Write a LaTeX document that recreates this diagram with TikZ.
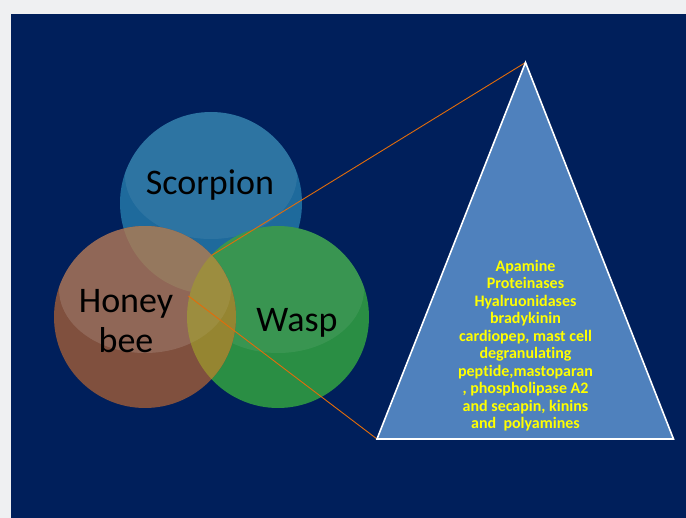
\documentclass[tikz,border=0pt]{standalone}
\usepackage{fontspec}
\setmainfont{Carlito}[Ligatures=NoCommon]
\usetikzlibrary{calc}
\definecolor{pagegrey}{HTML}{EFF0F2}
\definecolor{slidenavy}{HTML}{001F5B}
\definecolor{scorpblue}{HTML}{1E6A9C}
\definecolor{beebrown}{HTML}{80503E}
\definecolor{waspgreen}{HTML}{2A8E44}
\definecolor{beescorp}{HTML}{8E6E52}
\definecolor{beewasp}{HTML}{958531}
\definecolor{pyramidblue}{HTML}{4F81BD}
\definecolor{leadorange}{HTML}{E36C0A}
\definecolor{venomyellow}{HTML}{FFFF00}

\tikzset{
  circlabel/.style={font=\fontsize{36}{39.6}\selectfont, text=black, align=center, inner sep=0pt},
  venomtext/.style={font=\fontsize{16}{17.5}\selectfont\bfseries, text=venomyellow, align=center, inner sep=0pt},
  leadline/.style={leadorange, line width=0.9pt},
}

\begin{document}
\begin{tikzpicture}[x=1pt,y=-1pt]
    \useasboundingbox (0,0) rectangle (686,518);
    \fill[pagegrey] (0,0) rectangle (686,518);
    \fill[slidenavy] (11,14) rectangle (686,518);
    \coordinate (scorp) at (211,203);
    \coordinate (bee) at (145,317);
    \coordinate (wasp) at (278,317);
    % gloss on the upper part of each disc
    \foreach \c/\col in {scorp/scorpblue,wasp/waspgreen,bee/beebrown} {
        \fill[\col] (\c) circle (91pt);
        \begin{scope}
            \clip (\c) circle (91pt);
            \fill[white, opacity=0.07] ($(\c)+(0,-28)$) ellipse (86pt and 64pt);
        \end{scope}
    }
    \begin{scope}
        \clip (bee) circle (91pt);
        \fill[beescorp] (scorp) circle (91pt);
        \fill[beewasp] (wasp) circle (91pt);
        \clip ($(bee)+(0,-28)$) ellipse (86pt and 64pt);
        \fill[white, opacity=0.07] (bee) circle (91pt);
    \end{scope}
    \node[circlabel, anchor=base] (scorplabel) at (210,195) {Scorpion};
    \node[circlabel] (beelabel) at (126,321) {Honey\\bee};
    \node[circlabel, anchor=base] (wasplabel) at (297,332) {Wasp};

    \coordinate (apex) at (525.5,62.5);
    \coordinate (baseL) at (377,439);
    \coordinate (baseR) at (673.5,439);
    \coordinate (beewaspTop) at (211.5,255.5);
    \coordinate (waspEdge) at (188.5,296);
    \draw[leadline] (beewaspTop) -- (apex);
    \draw[leadline] (waspEdge) -- (baseL);
    \filldraw[fill=pyramidblue, draw=white, line width=1.6pt] (apex) -- (baseL) -- (baseR) -- cycle;
    \node[venomtext] (venoms) at (525.5,345.5) {Apamine\\Proteinases\\Hyalruonidases\\bradykinin\\cardiopep, mast cell\\degranulating\\peptide,mastoparan\\, phospholipase A2\\and secapin, kinins\\and~ polyamines};
\end{tikzpicture}
\end{document}
